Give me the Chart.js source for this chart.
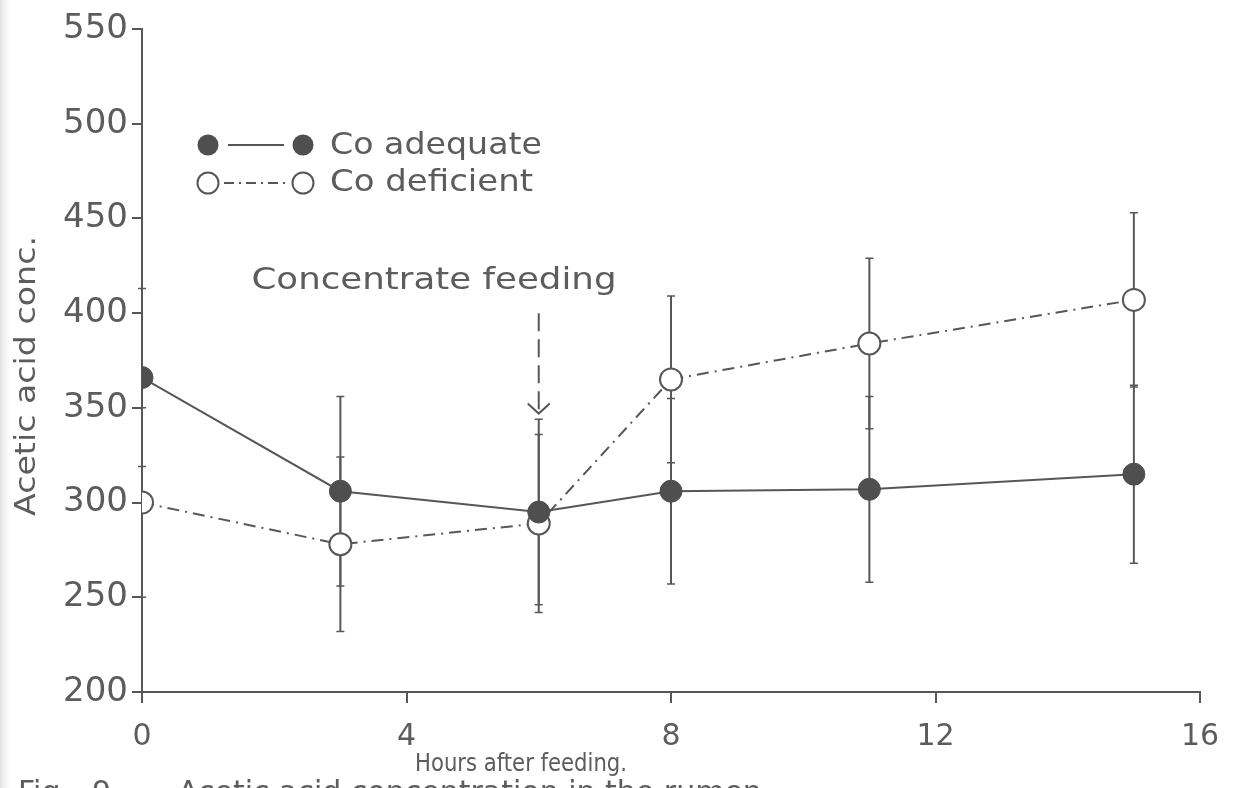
<!DOCTYPE html>
<html>
<head>
<meta charset="utf-8">
<title>Acetic acid concentration after feeding</title>
<script src="https://cdn.jsdelivr.net/npm/chart.js@4/dist/chart.umd.min.js"></script>
<style>
  html, body { margin: 0; padding: 0; background: #ffffff; }
  #wrap { width: 1240px; height: 788px; position: relative; }
  canvas { display: block; }
</style>
</head>
<body>
<div id="wrap"><canvas id="c" width="1240" height="788"></canvas></div>
<script>
// Sampling times (hours after feeding)
const hours = [0, 3, 6, 8, 11, 15];

// Acetic acid concentration, Co adequate group (mean and SE)
const coAdequate   = [366, 306, 295, 306, 307, 315];
const coAdequateSE = [47, 50, 49, 49, 49, 47];

// Acetic acid concentration, Co deficient group (mean and SE)
const coDeficient   = [300, 278, 289, 365, 384, 407];
const coDeficientSE = [50, 46, 47, 44, 45, 46];

// Axis ticks
const xTicks = [0, 4, 8, 12, 16];
const yTicks = [200, 250, 300, 350, 400, 450, 500, 550];

// Feeding annotation: time and arrow span (concentration units)
const feedTime = 6;
const feedArrowTop = 400;
const feedArrowTip = 347;

const INK = '#575757';
const TEXT = '#5c5c5c';
const FONT = '"DejaVu Sans", "Liberation Sans", sans-serif';

function toPoints(xs, ys) { return xs.map((x, i) => ({ x: x, y: ys[i] })); }

// Draw text squeezed/stretched to a given width
function fitText(ctx, text, x, y, width, size, align) {
  ctx.save();
  ctx.font = size + 'px ' + FONT;
  ctx.textBaseline = 'middle';
  ctx.textAlign = 'left';
  const w = ctx.measureText(text).width;
  const s = width / w;
  let left = x;
  if (align === 'center') left = x - width / 2;
  else if (align === 'right') left = x - width;
  ctx.translate(left, y);
  ctx.scale(s, 1);
  ctx.fillText(text, 0, 0);
  ctx.restore();
}

// Error bars drawn from the data through the chart scales
const errorBars = {
  id: 'errorBars',
  beforeDatasetsDraw(chart) {
    const { ctx, scales: { x, y } } = chart;
    const series = [[coAdequate, coAdequateSE], [coDeficient, coDeficientSE]];
    ctx.save();
    ctx.strokeStyle = INK;
    series.forEach(([vals, se]) => {
      hours.forEach((h, i) => {
        const px = x.getPixelForValue(h);
        const top = y.getPixelForValue(vals[i] + se[i]);
        const bot = y.getPixelForValue(vals[i] - se[i]);
        ctx.lineWidth = 2;
        ctx.beginPath();
        ctx.moveTo(px, top); ctx.lineTo(px, bot);
        ctx.stroke();
        ctx.lineWidth = 1.5;
        ctx.beginPath();
        ctx.moveTo(px - 4, top); ctx.lineTo(px + 4, top);
        ctx.moveTo(px - 4, bot); ctx.lineTo(px + 4, bot);
        ctx.stroke();
      });
    });
    ctx.restore();
  }
};

// Titles, legend and the feeding annotation
const decorations = {
  id: 'decorations',
  beforeDraw(chart) {
    const ctx = chart.ctx;
    ctx.save();
    ctx.fillStyle = '#ffffff';
    ctx.fillRect(0, 0, chart.width, chart.height);
    const g = ctx.createLinearGradient(0, 0, 14, 0);
    g.addColorStop(0, 'rgba(200,200,200,0.55)');
    g.addColorStop(1, 'rgba(255,255,255,0)');
    ctx.fillStyle = g;
    ctx.fillRect(0, 0, 14, chart.height);
    ctx.restore();
  },
  afterDraw(chart) {
    const { ctx, scales: { x, y } } = chart;
    ctx.save();
    ctx.fillStyle = TEXT;

    // y axis title
    ctx.save();
    ctx.translate(28, 376);
    ctx.rotate(-Math.PI / 2);
    fitText(ctx, 'Acetic acid conc.', 0, 0, 280, 28, 'center');
    ctx.restore();

    // x axis title
    fitText(ctx, 'Hours after feeding.', 521, 765, 212, 24, 'center');

    // figure caption (cut by the page edge)
    ctx.save();
    ctx.font = '30px ' + FONT;
    ctx.textBaseline = 'top';
    ctx.fillText('Fig.', 18, 779);
    ctx.fillText('9.', 92, 779);
    ctx.fillText('Acetic acid concentration in the rumen', 178, 779);
    ctx.restore();

    // legend
    ctx.strokeStyle = INK;
    ctx.lineWidth = 2;
    ctx.beginPath();
    ctx.moveTo(228, 145); ctx.lineTo(284, 145);
    ctx.stroke();
    ctx.setLineDash([10, 5, 2, 5]);
    ctx.beginPath();
    ctx.moveTo(224, 183); ctx.lineTo(288, 183);
    ctx.stroke();
    ctx.setLineDash([]);
    [208, 303].forEach(cx => {
      ctx.fillStyle = '#4f4f4f';
      ctx.beginPath(); ctx.arc(cx, 145, 10.5, 0, Math.PI * 2); ctx.fill();
      ctx.fillStyle = '#ffffff';
      ctx.beginPath(); ctx.arc(cx, 183, 10.5, 0, Math.PI * 2); ctx.fill();
      ctx.beginPath(); ctx.arc(cx, 183, 10.5, 0, Math.PI * 2); ctx.stroke();
    });
    ctx.fillStyle = TEXT;
    fitText(ctx, 'Co adequate', 330, 146, 212, 30, 'left');
    fitText(ctx, 'Co deficient', 330, 183, 203, 30, 'left');

    // concentrate feeding note and arrow
    fitText(ctx, 'Concentrate feeding', 434, 281, 365, 30, 'center');
    const ax = x.getPixelForValue(feedTime);
    const aTop = y.getPixelForValue(feedArrowTop);
    const aTip = y.getPixelForValue(feedArrowTip);
    ctx.strokeStyle = INK;
    ctx.lineWidth = 2;
    ctx.setLineDash([18, 8]);
    ctx.beginPath(); ctx.moveTo(ax, aTop); ctx.lineTo(ax, aTip - 4); ctx.stroke();
    ctx.setLineDash([]);
    ctx.beginPath();
    ctx.moveTo(ax - 11, aTip - 10); ctx.lineTo(ax, aTip); ctx.lineTo(ax + 11, aTip - 10);
    ctx.stroke();
    ctx.restore();
  }
};

new Chart(document.getElementById('c'), {
  type: 'line',
  data: {
    datasets: [
      {
        label: 'Co adequate',
        data: toPoints(hours, coAdequate),
        borderColor: INK,
        borderWidth: 2,
        pointRadius: 11,
        pointBackgroundColor: '#4f4f4f',
        pointBorderColor: '#4f4f4f',
        pointBorderWidth: 1,
        tension: 0
      },
      {
        label: 'Co deficient',
        data: toPoints(hours, coDeficient),
        borderColor: INK,
        borderWidth: 2,
        borderDash: [12, 6, 2, 6],
        pointRadius: 11,
        pointBackgroundColor: '#ffffff',
        pointBorderColor: INK,
        pointBorderWidth: 2,
        tension: 0
      }
    ]
  },
  options: {
    responsive: false,
    animation: false,
    devicePixelRatio: 1,
    layout: { padding: { left: 0, right: 40, top: 29, bottom: 0 } },
    plugins: { legend: { display: false }, tooltip: { enabled: false } },
    scales: {
      x: {
        type: 'linear',
        min: 0, max: 16,
        afterBuildTicks: s => { s.ticks = xTicks.map(v => ({ value: v })); },
        afterFit: s => { s.height = 96; },
        border: { display: true, color: INK, width: 2 },
        grid: { display: true, drawOnChartArea: false, drawTicks: true, tickLength: 11, color: INK, lineWidth: 2 },
        ticks: { color: TEXT, font: { family: FONT, size: 30 }, padding: 16, maxRotation: 0 }
      },
      y: {
        type: 'linear',
        min: 200, max: 550,
        afterBuildTicks: s => { s.ticks = yTicks.map(v => ({ value: v })); },
        afterFit: s => { s.width = 142; },
        border: { display: true, color: INK, width: 2 },
        grid: { display: true, drawOnChartArea: false, drawTicks: true, tickLength: 10, color: INK, lineWidth: 2 },
        ticks: { color: TEXT, font: { family: FONT, size: 34 }, padding: 4 }
      }
    }
  },
  plugins: [decorations, errorBars]
});
</script>
</body>
</html>
